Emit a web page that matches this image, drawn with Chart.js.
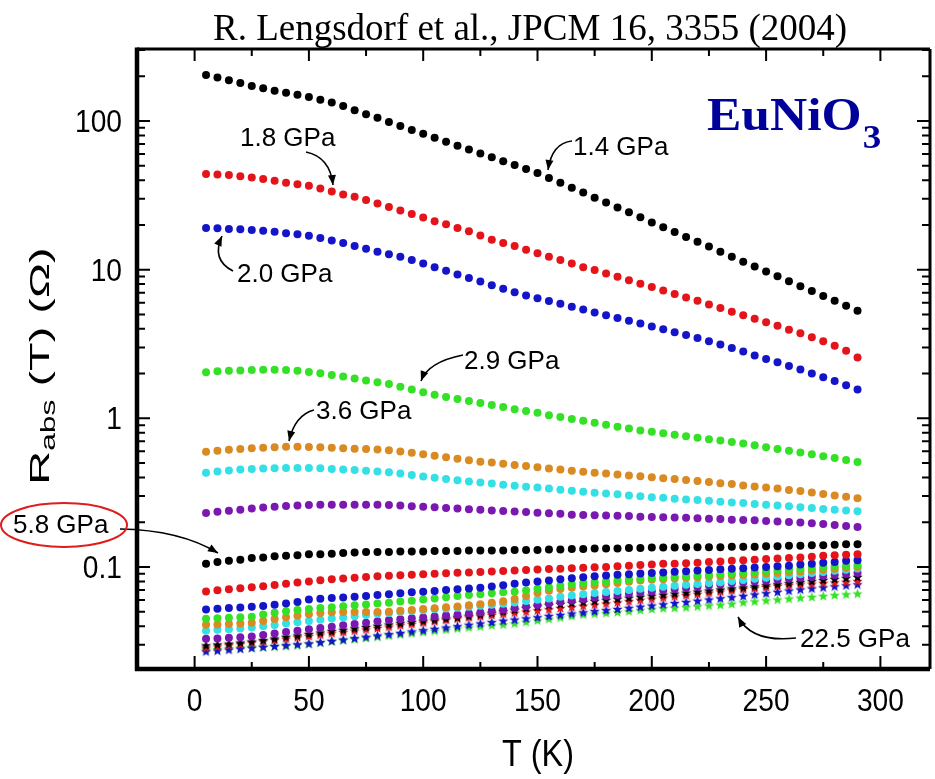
<!DOCTYPE html>
<html>
<head>
<meta charset="utf-8">
<title>EuNiO3 R(T)</title>
<script src="https://cdn.jsdelivr.net/npm/chart.js@4.4.1/dist/chart.umd.min.js"></script>
<style>
  html, body { margin: 0; padding: 0; background: #fff; }
  #wrap { width: 935px; height: 779px; position: relative; }
</style>
</head>
<body>
<div id="wrap"><canvas id="resChart" width="935" height="779"></canvas></div>
<script>
// temperature grid (K) shared by every run
const temps = [5,10,15,20,25,30,35,40,45,50,55,60,65,70,75,80,85,90,95,100,105,110,115,120,125,130,135,140,145,150,
  155,160,165,170,175,180,185,190,195,200,205,210,215,220,225,230,235,240,245,250,255,260,265,270,275,280,285,290];

// resistance (Ohm) per pressure run
const r14 = [204,196,188,180,172,166,160,155,150,145,139,133,126,118,111,105,98.4,92.5,87.1,82.0,
  77.1,72.4,68.2,64.3,60.5,57.0,53.7,50.6,47.6,44.7,41.4,38.4,35.6,33.0,30.5,28.3,26.2,24.3,22.5,20.8,
  19.3,17.9,16.6,15.4,14.3,13.2,12.2,11.3,10.5,9.73,9.02,8.36,7.74,7.18,6.65,6.17,5.71,5.30];
const r18 = [44.0,43.6,43.3,42.5,41.7,40.7,39.6,38.5,37.6,36.7,35.1,33.5,32.0,30.9,29.4,27.9,26.4,25.0,23.7,22.4,
  21.2,20.2,19.1,18.1,17.0,15.9,15.1,14.4,13.6,12.9,12.2,11.6,11.0,10.4,9.93,9.44,8.95,8.49,8.05,7.64,
  7.24,6.87,6.50,6.17,5.83,5.52,5.22,4.94,4.68,4.43,4.19,3.95,3.73,3.51,3.30,3.08,2.85,2.57];
const r20 = [19.1,19.0,18.8,18.7,18.5,18.3,18.0,17.6,17.3,16.9,16.3,15.7,15.1,14.4,13.8,13.2,12.7,12.2,11.6,11.0,
  10.4,9.82,9.29,8.79,8.32,7.87,7.45,7.05,6.71,6.43,6.15,5.89,5.64,5.40,5.16,4.94,4.73,4.53,4.34,4.15,
  3.97,3.80,3.63,3.47,3.30,3.14,2.97,2.81,2.65,2.51,2.38,2.25,2.13,2.00,1.89,1.78,1.67,1.56];
const r29 = [2.04,2.07,2.09,2.10,2.11,2.12,2.12,2.11,2.09,2.05,2.01,1.96,1.91,1.85,1.80,1.75,1.70,1.63,1.56,1.50,
  1.44,1.39,1.35,1.31,1.27,1.23,1.19,1.15,1.12,1.09,1.05,1.02,0.991,0.962,0.933,0.906,0.879,0.853,0.828,0.811,
  0.793,0.774,0.759,0.741,0.724,0.708,0.692,0.676,0.658,0.640,0.622,0.605,0.589,0.573,0.556,0.541,0.525,0.509];
const r36 = [0.596,0.605,0.614,0.622,0.630,0.635,0.640,0.643,0.643,0.641,0.638,0.634,0.630,0.625,0.621,0.617,0.610,0.598,0.586,0.573,
  0.560,0.547,0.535,0.522,0.511,0.504,0.494,0.485,0.478,0.469,0.460,0.452,0.444,0.437,0.431,0.425,0.419,0.413,0.407,0.402,
  0.396,0.391,0.385,0.379,0.373,0.366,0.361,0.354,0.348,0.342,0.337,0.330,0.324,0.317,0.310,0.303,0.297,0.290];
const rCyan1 = [0.431,0.439,0.446,0.452,0.457,0.460,0.462,0.463,0.463,0.463,0.461,0.457,0.453,0.449,0.444,0.439,0.433,0.425,0.416,0.406,
  0.398,0.390,0.383,0.376,0.370,0.364,0.358,0.352,0.347,0.342,0.337,0.331,0.326,0.321,0.316,0.312,0.308,0.303,0.299,0.295,
  0.292,0.288,0.285,0.282,0.279,0.275,0.272,0.269,0.265,0.262,0.259,0.256,0.252,0.249,0.246,0.243,0.240,0.237];
const rPurple1 = [0.231,0.235,0.239,0.243,0.247,0.251,0.254,0.257,0.259,0.261,0.262,0.262,0.262,0.262,0.262,0.262,0.261,0.259,0.256,0.254,
  0.252,0.249,0.247,0.245,0.243,0.240,0.238,0.236,0.234,0.232,0.230,0.228,0.225,0.224,0.223,0.222,0.221,0.220,0.218,0.217,
  0.216,0.215,0.214,0.213,0.211,0.210,0.208,0.207,0.206,0.204,0.202,0.201,0.199,0.197,0.195,0.192,0.189,0.186];
const r58 = [0.105,0.108,0.110,0.112,0.115,0.116,0.118,0.119,0.120,0.122,0.122,0.123,0.124,0.125,0.126,0.126,0.126,0.127,0.127,0.127,
  0.128,0.128,0.128,0.129,0.129,0.129,0.129,0.130,0.130,0.130,0.131,0.131,0.132,0.132,0.133,0.133,0.133,0.134,0.134,0.135,
  0.135,0.135,0.136,0.136,0.136,0.136,0.137,0.137,0.137,0.138,0.138,0.139,0.139,0.140,0.140,0.141,0.142,0.142];
const rRed2 = [0.0684,0.0697,0.0708,0.0719,0.0730,0.0743,0.0757,0.0771,0.0785,0.0800,0.0815,0.0826,0.0838,0.0847,0.0857,0.0865,0.0873,0.0881,0.0887,0.0895,
  0.0902,0.0908,0.0914,0.0920,0.0927,0.0933,0.0940,0.0946,0.0955,0.0962,0.0968,0.0975,0.0982,0.0989,0.0995,0.100,0.101,0.102,0.103,0.104,
  0.105,0.105,0.106,0.107,0.108,0.109,0.110,0.111,0.112,0.113,0.114,0.115,0.116,0.117,0.119,0.120,0.121,0.122];
const rBlue2 = [0.0518,0.0524,0.0530,0.0535,0.0540,0.0547,0.0557,0.0569,0.0581,0.0605,0.0612,0.0618,0.0624,0.0630,0.0638,0.0647,0.0656,0.0665,0.0675,0.0682,
  0.0690,0.0700,0.0708,0.0716,0.0724,0.0740,0.0755,0.0771,0.0785,0.0798,0.0811,0.0826,0.0839,0.0853,0.0865,0.0877,0.0887,0.0895,0.0904,0.0912,
  0.0920,0.0929,0.0938,0.0946,0.0955,0.0964,0.0973,0.0982,0.0991,0.100,0.101,0.102,0.104,0.105,0.107,0.108,0.110,0.111];
const rGreen2 = [0.0449,0.0452,0.0456,0.0459,0.0462,0.0479,0.0493,0.0504,0.0513,0.0521,0.0530,0.0537,0.0545,0.0552,0.0560,0.0568,0.0575,0.0585,0.0594,0.0604,
  0.0614,0.0625,0.0637,0.0647,0.0656,0.0665,0.0675,0.0682,0.0695,0.0713,0.0731,0.0748,0.0766,0.0780,0.0791,0.0802,0.0813,0.0824,0.0834,0.0843,
  0.0851,0.0859,0.0867,0.0875,0.0885,0.0895,0.0906,0.0916,0.0927,0.0940,0.0953,0.0964,0.0975,0.0987,0.0998,0.101,0.102,0.103];
const rOrange2 = [0.0409,0.0411,0.0414,0.0417,0.0421,0.0433,0.0447,0.0459,0.0470,0.0481,0.0490,0.0497,0.0499,0.0499,0.0499,0.0499,0.0500,0.0507,0.0514,0.0521,
  0.0528,0.0536,0.0542,0.0552,0.0562,0.0574,0.0589,0.0610,0.0638,0.0668,0.0692,0.0711,0.0726,0.0738,0.0752,0.0766,0.0780,0.0796,0.0811,0.0820,
  0.0828,0.0836,0.0843,0.0851,0.0859,0.0867,0.0875,0.0883,0.0891,0.0902,0.0912,0.0923,0.0933,0.0946,0.0959,0.0973,0.0986,0.0998];
const rCyan2 = [0.0373,0.0378,0.0382,0.0386,0.0391,0.0399,0.0407,0.0416,0.0425,0.0434,0.0442,0.0450,0.0458,0.0467,0.0475,0.0484,0.0491,0.0498,0.0505,0.0512,
  0.0519,0.0526,0.0532,0.0541,0.0548,0.0557,0.0566,0.0578,0.0590,0.0603,0.0615,0.0630,0.0643,0.0656,0.0668,0.0679,0.0690,0.0701,0.0713,0.0724,
  0.0736,0.0748,0.0759,0.0769,0.0780,0.0791,0.0804,0.0817,0.0832,0.0847,0.0863,0.0879,0.0895,0.0910,0.0927,0.0944,0.0959,0.0977];
const rPurple2 = [0.0329,0.0331,0.0334,0.0337,0.0341,0.0349,0.0357,0.0366,0.0373,0.0381,0.0388,0.0396,0.0405,0.0413,0.0422,0.0431,0.0440,0.0446,0.0452,0.0458,
  0.0465,0.0471,0.0478,0.0486,0.0495,0.0506,0.0516,0.0530,0.0542,0.0555,0.0568,0.0581,0.0596,0.0610,0.0624,0.0637,0.0649,0.0661,0.0673,0.0685,
  0.0697,0.0710,0.0723,0.0736,0.0750,0.0764,0.0776,0.0787,0.0798,0.0809,0.0820,0.0832,0.0843,0.0855,0.0869,0.0883,0.0897,0.0912];
const rStarBlack = [0.0295,0.0299,0.0303,0.0308,0.0313,0.0320,0.0328,0.0337,0.0344,0.0352,0.0360,0.0368,0.0376,0.0384,0.0392,0.0400,0.0408,0.0416,0.0424,0.0432,
  0.0440,0.0448,0.0456,0.0466,0.0476,0.0487,0.0499,0.0512,0.0526,0.0540,0.0551,0.0560,0.0569,0.0578,0.0587,0.0597,0.0607,0.0617,0.0627,0.0637,
  0.0647,0.0658,0.0668,0.0679,0.0690,0.0701,0.0713,0.0724,0.0736,0.0748,0.0760,0.0773,0.0785,0.0798,0.0811,0.0824,0.0838,0.0851];
const rStarRed = [0.0285,0.0290,0.0296,0.0301,0.0308,0.0314,0.0321,0.0327,0.0334,0.0341,0.0348,0.0356,0.0363,0.0371,0.0378,0.0386,0.0394,0.0403,0.0411,0.0420,
  0.0429,0.0438,0.0447,0.0455,0.0463,0.0472,0.0481,0.0490,0.0499,0.0507,0.0516,0.0526,0.0535,0.0545,0.0555,0.0565,0.0575,0.0586,0.0597,0.0608,
  0.0619,0.0631,0.0643,0.0655,0.0667,0.0679,0.0692,0.0705,0.0716,0.0728,0.0740,0.0750,0.0759,0.0767,0.0776,0.0783,0.0791,0.0798];
const rStarBlue = [0.0269,0.0272,0.0276,0.0280,0.0284,0.0288,0.0292,0.0296,0.0300,0.0304,0.0310,0.0316,0.0323,0.0330,0.0337,0.0344,0.0351,0.0358,0.0366,0.0373,
  0.0381,0.0389,0.0397,0.0406,0.0414,0.0423,0.0432,0.0440,0.0448,0.0456,0.0465,0.0473,0.0483,0.0492,0.0501,0.0509,0.0518,0.0527,0.0537,0.0547,
  0.0557,0.0568,0.0578,0.0589,0.0600,0.0611,0.0622,0.0635,0.0649,0.0662,0.0676,0.0689,0.0701,0.0713,0.0724,0.0736,0.0748,0.0759];
const r225 = [0.0277,0.0279,0.0282,0.0284,0.0286,0.0288,0.0290,0.0292,0.0296,0.0302,0.0308,0.0315,0.0320,0.0325,0.0331,0.0337,0.0344,0.0350,0.0356,0.0363,
  0.0370,0.0377,0.0384,0.0390,0.0396,0.0403,0.0408,0.0415,0.0425,0.0435,0.0445,0.0455,0.0466,0.0476,0.0482,0.0488,0.0494,0.0501,0.0511,0.0519,
  0.0525,0.0528,0.0532,0.0540,0.0547,0.0553,0.0562,0.0575,0.0583,0.0592,0.0600,0.0608,0.0617,0.0625,0.0634,0.0643,0.0650,0.0658];

// axis ticks
const xMajorTicks = [0, 50, 100, 150, 200, 250, 300];
const xMinorTicks = [25, 75, 125, 175, 225, 275];
const yMajorTicks = [0.1, 1, 10, 100];
const yTickLabels = ['0.1', '1', '10', '100'];

const BLACK = '#000000', RED = '#e3151b', BLUE = '#1414c8', GREEN = '#35e126',
      ORANGE = '#d98a22', CYAN = '#34e0e6', PURPLE = '#7a18b0';

const SANS = '"Liberation Sans", Arial, sans-serif';
const SERIF = '"Liberation Serif", "Times New Roman", serif';

function starImage(color) {
  const c = document.createElement('canvas');
  c.width = c.height = 11;
  const g = c.getContext('2d');
  g.fillStyle = color;
  g.beginPath();
  for (let i = 0; i < 10; i++) {
    const r = i % 2 ? 2.3 : 5.4;
    const a = -Math.PI / 2 + i * Math.PI / 5;
    g.lineTo(5.5 + r * Math.cos(a), 5.5 + r * Math.sin(a));
  }
  g.closePath();
  g.fill();
  return c;
}

const runs = [
  { data: r14, color: BLACK },
  { data: r18, color: RED },
  { data: r20, color: BLUE },
  { data: r29, color: GREEN },
  { data: r36, color: ORANGE },
  { data: rCyan1, color: CYAN },
  { data: rPurple1, color: PURPLE },
  { data: r58, color: BLACK },
  { data: rRed2, color: RED },
  { data: rBlue2, color: BLUE },
  { data: rGreen2, color: GREEN },
  { data: rOrange2, color: ORANGE },
  { data: rCyan2, color: CYAN },
  { data: rPurple2, color: PURPLE },
  { data: rStarBlack, color: BLACK, star: true },
  { data: rStarRed, color: RED, star: true },
  { data: rStarBlue, color: BLUE, star: true },
  { data: r225, color: GREEN, star: true }
];

const datasets = runs.map(run => ({
  data: temps.map((t, i) => ({ x: t, y: run.data[i] })),
  backgroundColor: run.color,
  borderColor: run.color,
  borderWidth: 0,
  pointRadius: run.star ? 5 : 4,
  pointStyle: run.star ? starImage(run.color) : 'circle',
  showLine: false
}));

// arrows: start, control, tip
const notes = [
  { text: '1.4 GPa', x: 573, y: 155, arrow: [572, 141, 552, 143, 548, 170] },
  { text: '1.8 GPa', x: 240, y: 146, arrow: [306, 152, 330, 157, 333, 185] },
  { text: '2.0 GPa', x: 237, y: 282, arrow: [233, 271, 211, 260, 222, 236] },
  { text: '2.9 GPa', x: 464, y: 369, arrow: [463, 355, 428, 362, 421, 381] },
  { text: '3.6 GPa', x: 316, y: 419, arrow: [314, 410, 295, 415, 289, 441] },
  { text: '5.8 GPa', x: 13, y: 533, arrow: [120, 529, 180, 530, 218, 553] },
  { text: '22.5 GPa', x: 800, y: 647, arrow: [796, 638, 752, 643, 738, 617] }
];

function drawArrow(ctx, p) {
  const [x0, y0, cx, cy, x1, y1] = p;
  ctx.beginPath();
  ctx.moveTo(x0, y0);
  ctx.quadraticCurveTo(cx, cy, x1, y1);
  ctx.stroke();
  const ang = Math.atan2(y1 - cy, x1 - cx);
  const len = 10, w = 4;
  ctx.beginPath();
  ctx.moveTo(x1, y1);
  ctx.lineTo(x1 - len * Math.cos(ang) + w * Math.sin(ang), y1 - len * Math.sin(ang) - w * Math.cos(ang));
  ctx.lineTo(x1 - len * Math.cos(ang) - w * Math.sin(ang), y1 - len * Math.sin(ang) + w * Math.cos(ang));
  ctx.closePath();
  ctx.fill();
}

// narrow text: draw with a horizontal squeeze around (x, y)
function squeezedText(ctx, text, x, y, sx) {
  ctx.save();
  ctx.translate(x, y);
  ctx.scale(sx, 1);
  ctx.fillText(text, 0, 0);
  ctx.restore();
}

const framePlugin = {
  id: 'frame',
  afterDraw(chart) {
    const { ctx, chartArea: a, scales: { x, y } } = chart;
    ctx.save();
    ctx.strokeStyle = '#000';
    ctx.fillStyle = '#000';

    // frame
    ctx.lineWidth = 3;
    ctx.beginPath();
    ctx.moveTo(a.left, a.top); ctx.lineTo(a.right, a.top);
    ctx.moveTo(a.right, a.top); ctx.lineTo(a.right, a.bottom);
    ctx.stroke();
    ctx.lineWidth = 4.5;
    ctx.beginPath();
    ctx.moveTo(a.left, a.top - 1.5); ctx.lineTo(a.left, a.bottom + 2);
    ctx.moveTo(a.left - 2, a.bottom); ctx.lineTo(a.right, a.bottom);
    ctx.stroke();

    // inward ticks
    ctx.lineWidth = 2;
    ctx.beginPath();
    xMajorTicks.forEach(v => {
      const px = x.getPixelForValue(v);
      ctx.moveTo(px, a.bottom); ctx.lineTo(px, a.bottom - 13);
      ctx.moveTo(px, a.top); ctx.lineTo(px, a.top + 12);
    });
    xMinorTicks.forEach(v => {
      const px = x.getPixelForValue(v);
      ctx.moveTo(px, a.bottom); ctx.lineTo(px, a.bottom - 7);
      ctx.moveTo(px, a.top); ctx.lineTo(px, a.top + 7);
    });
    for (let d = 0.01; d <= 100; d *= 10) {
      for (let m = 1; m <= 9; m++) {
        const v = m * d;
        if (v < y.min || v > y.max) continue;
        const py = y.getPixelForValue(v);
        const len = m === 1 ? 13 : 8;
        ctx.moveTo(a.left, py); ctx.lineTo(a.left + len, py);
        ctx.moveTo(a.right, py); ctx.lineTo(a.right - len, py);
      }
    }
    ctx.stroke();

    // tick labels
    ctx.font = '32px ' + SANS;
    ctx.textAlign = 'center';
    ctx.textBaseline = 'alphabetic';
    xMajorTicks.forEach(v => squeezedText(ctx, String(v), x.getPixelForValue(v), a.bottom + 42, 0.88));
    ctx.textAlign = 'right';
    yMajorTicks.forEach((v, i) => squeezedText(ctx, yTickLabels[i], a.left - 15, y.getPixelForValue(v) + 11, 0.88));

    // axis titles
    ctx.font = '36px ' + SANS;
    ctx.textAlign = 'center';
    squeezedText(ctx, 'T (K)', 538, 766, 0.9);

    ctx.save();
    ctx.translate(41, 366);
    ctx.rotate(-Math.PI / 2);
    ctx.scale(1.38, 0.84);
    const big = '34px ' + SANS;
    const small = '23px ' + SANS;
    ctx.font = big; const wR = ctx.measureText('R').width;
    const wTail = ctx.measureText(' (T) (\u03A9)').width;
    ctx.font = small; const wSub = ctx.measureText('abs').width;
    let cx = -(wR + wSub + wTail) / 2;
    ctx.textAlign = 'left';
    ctx.textBaseline = 'middle';
    ctx.font = big; ctx.fillText('R', cx, 0); cx += wR;
    ctx.font = small; ctx.fillText('abs', cx, 10); cx += wSub;
    ctx.font = big; ctx.fillText(' (T) (\u03A9)', cx, 0);
    ctx.restore();

    // pressure labels with arrows
    ctx.font = '26px ' + SANS;
    ctx.textAlign = 'left';
    ctx.textBaseline = 'alphabetic';
    ctx.lineWidth = 1.6;
    notes.forEach(n => {
      ctx.fillText(n.text, n.x, n.y);
      drawArrow(ctx, n.arrow);
    });

    // ring around the 5.8 GPa label
    ctx.strokeStyle = '#e01c1c';
    ctx.lineWidth = 2;
    ctx.beginPath();
    ctx.ellipse(64, 525, 63, 22, 0, 0, Math.PI * 2);
    ctx.stroke();

    // reference line
    ctx.fillStyle = '#000';
    ctx.font = '37px ' + SERIF;
    ctx.textAlign = 'center';
    ctx.fillText('R. Lengsdorf et al., JPCM 16, 3355 (2004)', 530, 40);

    // compound name
    ctx.fillStyle = '#00009a';
    ctx.textAlign = 'left';
    ctx.font = 'bold 46px ' + SERIF;
    ctx.save();
    ctx.translate(707, 130);
    ctx.scale(1.12, 1);
    ctx.fillText('EuNiO', 0, 0);
    const wName = ctx.measureText('EuNiO').width;
    ctx.font = 'bold 33px ' + SERIF;
    ctx.fillText('3', wName + 1, 18);
    ctx.restore();

    ctx.restore();
  }
};

const chart = new Chart(document.getElementById('resChart'), {
  type: 'scatter',
  data: { datasets },
  options: {
    responsive: false,
    animation: false,
    devicePixelRatio: 1,
    layout: { padding: { left: 137, top: 49, right: 0, bottom: 110 } },
    plugins: { legend: { display: false }, tooltip: { enabled: false } },
    scales: {
      x: { type: 'linear', min: -25.2, max: 321.7, display: false },
      y: { type: 'logarithmic', min: 0.0206, max: 305, display: false }
    }
  },
  plugins: [framePlugin]
});
</script>
</body>
</html>
